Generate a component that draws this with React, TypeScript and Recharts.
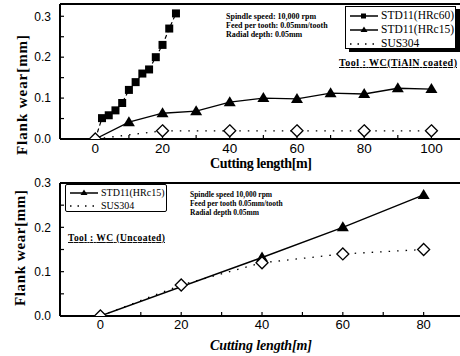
import React from "react";
import { LineChart, Line, XAxis, YAxis, Legend, ReferenceLine } from "recharts";

// top panel, tool WC(TiAlN coated)
const topHrc60Length = [0, 2, 4, 6, 8, 10, 12, 14, 16, 18, 20, 22, 24];
const topHrc60Wear = [0, 0.051, 0.058, 0.07, 0.088, 0.12, 0.139, 0.16, 0.17, 0.2, 0.23, 0.27, 0.307];
const topHrc15Length = [0, 10, 20, 30, 40, 50, 60, 70, 80, 90, 100];
const topHrc15Wear = [0, 0.041, 0.063, 0.068, 0.09, 0.1, 0.098, 0.112, 0.11, 0.124, 0.122];
const topSusLength = [0, 20, 40, 60, 80, 100];
const topSusWear = [0, 0.02, 0.02, 0.02, 0.02, 0.02];
const topXTicks = [0, 10, 20, 30, 40, 50, 60, 70, 80, 90, 100];
const topYTicks = [0, 0.05, 0.1, 0.15, 0.2, 0.25, 0.3];

// bottom panel, tool WC (Uncoated)
const botHrc15Length = [0, 40, 60, 80];
const botHrc15Wear = [0, 0.132, 0.2, 0.273];
const botSusLength = [0, 20, 40, 60, 80];
const botSusWear = [0, 0.07, 0.12, 0.14, 0.15];
const botXTicks = [0, 10, 20, 30, 40, 50, 60, 70, 80];
const botYTicks = [0, 0.05, 0.1, 0.15, 0.2, 0.25, 0.3];

const cuttingNote = ["Spindle speed: 10,000 rpm", "Feed per tooth: 0.05mm/tooth", "Radial depth: 0.05mm"];
const cuttingNoteBottom = ["Spindle speed 10,000 rpm", "Feed per tooth 0.05mm/tooth", "Radial depth 0.05mm"];

const zip = (xs: number[], ys: number[]) => xs.map((x, i) => ({ x, y: ys[i] }));

const topHrc60 = zip(topHrc60Length, topHrc60Wear);
const topHrc15 = zip(topHrc15Length, topHrc15Wear);
const topSus = zip(topSusLength, topSusWear);
const botHrc15 = zip(botHrc15Length, botHrc15Wear);
const botSus = zip(botSusLength, botSusWear);

const serif = "'Liberation Serif', 'DejaVu Serif', serif";
const sans = "'Liberation Sans', Arial, sans-serif";

// markers; the ones at length 0 sit under the diamond, so skip them
function Square(p: any) {
  if (p.cx == null || p.payload?.x === 0) return <g key={p.index} />;
  return <rect key={p.index} x={p.cx - 4} y={p.cy - 4} width={8} height={8} fill="#000" />;
}

function Triangle(p: any) {
  if (p.cx == null || p.payload?.x === 0) return <g key={p.index} />;
  const { cx, cy } = p;
  return <polygon key={p.index} points={`${cx},${cy - 6} ${cx - 6},${cy + 4} ${cx + 6},${cy + 4}`} fill="#000" />;
}

function Diamond(p: any) {
  if (p.cx == null) return <g key={p.index} />;
  const { cx, cy } = p;
  return (
    <polygon
      key={p.index}
      points={`${cx},${cy - 6} ${cx + 6},${cy} ${cx},${cy + 6} ${cx - 6},${cy}`}
      fill="#fff"
      stroke="#000"
      strokeWidth={1.3}
    />
  );
}

const xFmt = (v: number) => (v % 20 === 0 ? String(v) : "");
const yFmt = (v: number) => (Math.round(v * 100) % 10 === 0 ? v.toFixed(1) : "");

function LegendRow({ label, kind, size }: { label: string; kind: string; size: number }) {
  return (
    <div style={{ display: "flex", alignItems: "center", height: size + 2.5, lineHeight: 1 }}>
      <svg width={32} height={12} style={{ flex: "none" }}>
        {kind === "sus" ? (
          <line x1={2} x2={30} y1={6} y2={6} stroke="#000" strokeWidth={1.5} strokeDasharray="1.5 6" />
        ) : (
          <line x1={2} x2={30} y1={6} y2={6} stroke="#000" strokeWidth={1.5} />
        )}
        {kind === "sq" && <rect x={13} y={3.5} width={5} height={5} fill="#000" />}
        {kind === "tri" && <polygon points="16,2.5 12.5,8 19.5,8" fill="#000" />}
      </svg>
      <span style={{ marginLeft: 1, whiteSpace: "nowrap" }}>{label}</span>
    </div>
  );
}

function TopLegend() {
  return (
    <div
      style={{
        width: 111,
        height: 43,
        border: "1.5px solid #000",
        boxShadow: "4px 3px 0 #000",
        background: "#fff",
        fontFamily: serif,
        fontSize: 11.5,
        padding: "2px 0 0 2px",
        boxSizing: "border-box",
      }}
    >
      <LegendRow label="STD11(HRc60)" kind="sq" size={11.5} />
      <LegendRow label="STD11(HRc15)" kind="tri" size={11.5} />
      <LegendRow label="SUS304" kind="sus" size={11.5} />
    </div>
  );
}

function BottomLegend() {
  return (
    <div
      style={{
        width: 102,
        height: 28,
        border: "1.5px solid #000",
        borderRadius: 2,
        background: "#fff",
        fontFamily: serif,
        fontSize: 10,
        padding: "1px 0 0 2px",
        boxSizing: "border-box",
      }}
    >
      <LegendRow label="STD11(HRc15)" kind="tri" size={10.5} />
      <LegendRow label="SUS304" kind="sus" size={10.5} />
    </div>
  );
}

const axisLine = { stroke: "#000", strokeWidth: 2 };
const tickLine = { stroke: "#000", strokeWidth: 1.2 };

export default function App() {
  return (
    <div style={{ position: "absolute", left: 0, top: 0, width: 460, height: 356, background: "#fff", overflow: "hidden" }}>
      <div style={{ position: "absolute", left: 0, top: 0 }}>
        <LineChart width={460} height={172} margin={{ top: 4, right: 0, left: 0, bottom: 0 }}>
          <XAxis
            type="number"
            dataKey="x"
            domain={[-10.5, 108.5]}
            ticks={topXTicks}
            tickFormatter={xFmt}
            height={33}
            axisLine={axisLine}
            tickLine={tickLine}
            tickSize={-4}
            tickMargin={8}
            tick={{ fill: "#000", fontSize: 13.5, fontFamily: sans }}
            allowDataOverflow
          />
          <YAxis
            type="number"
            dataKey="y"
            domain={[0, 0.33]}
            ticks={topYTicks}
            tickFormatter={yFmt}
            width={60}
            axisLine={axisLine}
            tickLine={tickLine}
            tickSize={-4}
            tickMargin={13}
            tick={{ fill: "#000", fontSize: 12, fontFamily: sans }}
            allowDataOverflow
          />
          <ReferenceLine y={0.33} stroke="#000" strokeWidth={2} />
          <Legend
            layout="vertical"
            align="center"
            verticalAlign="middle"
            content={<TopLegend />}
            wrapperStyle={{ position: "absolute", left: 345, top: 6, width: 116, height: 47 }}
          />
          <Line
            data={topHrc60}
            dataKey="y"
            name="STD11(HRc60)"
            stroke="#000"
            strokeWidth={1.2}
            strokeDasharray="4 3"
            dot={Square}
            activeDot={false}
            isAnimationActive={false}
          />
          <Line
            data={topHrc15}
            dataKey="y"
            name="STD11(HRc15)"
            stroke="#000"
            strokeWidth={1.3}
            dot={Triangle}
            activeDot={false}
            isAnimationActive={false}
          />
          <Line
            data={topSus}
            dataKey="y"
            name="SUS304"
            stroke="#000"
            strokeWidth={1.3}
            strokeDasharray="1.5 7"
            dot={Diamond}
            activeDot={false}
            isAnimationActive={false}
          />
        </LineChart>
      </div>

      <div style={{ position: "absolute", left: 0, top: 170 }}>
        <LineChart width={460} height={186} margin={{ top: 13, right: 0, left: 0, bottom: 0 }}>
          <XAxis
            type="number"
            dataKey="x"
            domain={[-10, 89]}
            ticks={botXTicks}
            tickFormatter={xFmt}
            height={40}
            axisLine={axisLine}
            tickLine={tickLine}
            tickSize={-4}
            tickMargin={8}
            tick={{ fill: "#000", fontSize: 13, fontFamily: sans }}
            allowDataOverflow
          />
          <YAxis
            type="number"
            dataKey="y"
            domain={[0, 0.3]}
            ticks={botYTicks}
            tickFormatter={yFmt}
            width={60}
            axisLine={axisLine}
            tickLine={tickLine}
            tickSize={-4}
            tickMargin={13}
            tick={{ fill: "#000", fontSize: 12, fontFamily: sans }}
            allowDataOverflow
          />
          <ReferenceLine y={0.3} stroke="#000" strokeWidth={2} />
          <Legend
            layout="vertical"
            align="center"
            verticalAlign="middle"
            content={<BottomLegend />}
            wrapperStyle={{ position: "absolute", left: 65, top: 14, width: 104, height: 30 }}
          />
          <Line
            data={botHrc15}
            dataKey="y"
            name="STD11(HRc15)"
            stroke="#000"
            strokeWidth={1.4}
            dot={Triangle}
            activeDot={false}
            isAnimationActive={false}
          />
          <Line
            data={botSus}
            dataKey="y"
            name="SUS304"
            stroke="#000"
            strokeWidth={1.3}
            strokeDasharray="1.5 7"
            dot={Diamond}
            activeDot={false}
            isAnimationActive={false}
          />
        </LineChart>
      </div>

      <svg width={460} height={356} style={{ position: "absolute", left: 0, top: 0, pointerEvents: "none" }}>
        <g fontFamily={serif} fontWeight="bold" fill="#000">
          <text x={22} y={95} fontSize={15} textAnchor="middle" dominantBaseline="central" transform="rotate(-90 22 95)" textLength={120}>
            Flank wear[mm]
          </text>
          <text x={20} y={248} fontSize={15} textAnchor="middle" dominantBaseline="central" transform="rotate(-90 20 248)" textLength={116}>
            Flank wear[mm]
          </text>
          <text x={261} y={168} fontSize={14} textAnchor="middle" textLength={102}>
            Cutting length[m]
          </text>
          <text x={261} y={350} fontSize={14} fontStyle="italic" textAnchor="middle" textLength={102}>
            Cutting length[m]
          </text>
          {cuttingNote.map((t, i) => (
            <text key={t} x={226} y={19 + i * 9} fontSize={8}>
              {t}
            </text>
          ))}
          {cuttingNoteBottom.map((t, i) => (
            <text key={t} x={190} y={197 + i * 9} fontSize={7.5}>
              {t}
            </text>
          ))}
          <text x={339} y={66} fontSize={10} textDecoration="underline" textLength={118}>
            Tool : WC(TiAlN coated)
          </text>
          <text x={68} y={241} fontSize={9.5} textDecoration="underline" textLength={97}>
            Tool : WC (Uncoated)
          </text>
        </g>
      </svg>
    </div>
  );
}
